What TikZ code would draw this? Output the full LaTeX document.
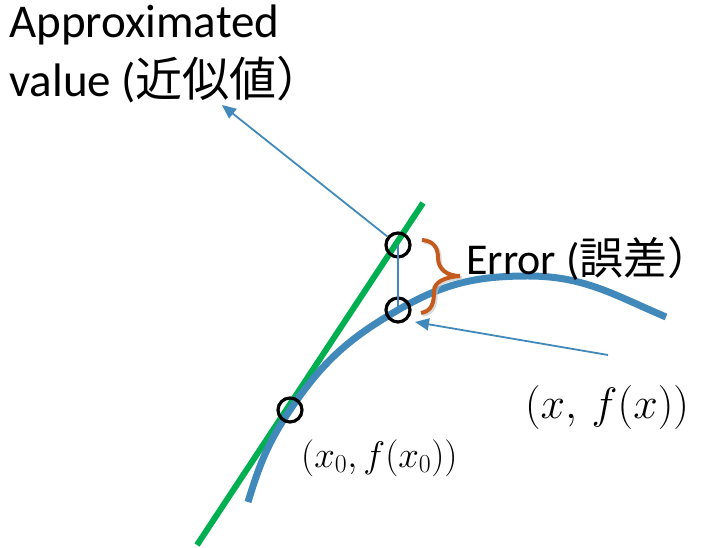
\RequirePackage{fix-cm}
\documentclass[tikz,border=0pt]{standalone}
\usepackage{fontspec}
\setmainfont{Carlito}
\newfontfamily\cjk{Noto Sans CJK JP}
\usetikzlibrary{arrows.meta}
\definecolor{curveblue}{RGB}{65,137,186}
\definecolor{tangreen}{RGB}{0,176,80}
\definecolor{bracered}{RGB}{197,90,30}
\begin{document}
\begin{tikzpicture}[x=1pt,y=1pt,
  markcircle/.style={circle,draw=black,line width=3.2pt,minimum size=24pt,inner sep=0pt},
  pointer/.style={draw=curveblue,line width=1.8pt,-{Triangle[length=14pt,width=12pt]}},
  guide/.style={draw=curveblue,line width=1.8pt},
  bigtext/.style={font=\fontsize{44}{59}\selectfont,inner sep=0pt,align=left},
]
\useasboundingbox (0,0) rectangle (702,548);
% tangent line
\coordinate (g1) at (197,3);
\coordinate (g2) at (423,345);
\draw[tangreen,line width=6pt] (g1) -- (g2);
% curve
\coordinate (c0) at (248,46);
\coordinate (c1) at (290,138);
\coordinate (c2) at (398,238);
\coordinate (c3) at (528,272);
\coordinate (c4) at (666,231);
\draw[curveblue,line width=7pt] (c0) to[out=73,in=236] (c1) to[out=56,in=210] (c2)
  to[out=30,in=180] (c3) to[out=0,in=157] (c4);
% markers
\node[markcircle] (p0) at (290,138) {};
\node[markcircle] (pf) at (398,238) {};
\node[markcircle] (pa) at (398,303) {};
\draw[guide] (pa.center) -- (pf.center);
% labels
\node[bigtext,font=\fontsize{47}{59}\selectfont,anchor=base west] (apx) at (9,451) {Approximated\\value ({\cjk 近似値）}};
\coordinate (apxtip) at (222,443);
\draw[pointer] (pa) -- (apxtip);
\node[bigtext,anchor=base west] (err) at (466,273) {Error ({\cjk 誤差）}};
\node[inner sep=0pt,font=\fontsize{44}{52}\selectfont] (fx) at (607,140) {$\bigl(x,\,f(x)\bigr)$};
\node[inner sep=0pt,font=\fontsize{37}{44}\selectfont,anchor=west] (fx0) at (301,90) {$(x_0,f(x_0))$};
\coordinate (ftail) at (608,193);
\coordinate (ftip) at (415,226);
\draw[pointer] (ftail) -- (ftip);
% brace
\draw[black!25,line width=3.5pt,opacity=0.6] (424,306) .. controls (436,305) and (440,298) .. (440,288)
  .. controls (440,277) and (449,270) .. (462,270)
  .. controls (447,269) and (436,264) .. (436,255)
  .. controls (436,243) and (434,235) .. (423,233);
\draw[bracered,line width=4pt] (422,308) .. controls (434,307) and (438,300) .. (438,290)
  .. controls (438,279) and (447,272) .. (460,272)
  .. controls (445,271) and (434,266) .. (434,257)
  .. controls (434,245) and (432,237) .. (421,235);
\end{tikzpicture}
\end{document}
